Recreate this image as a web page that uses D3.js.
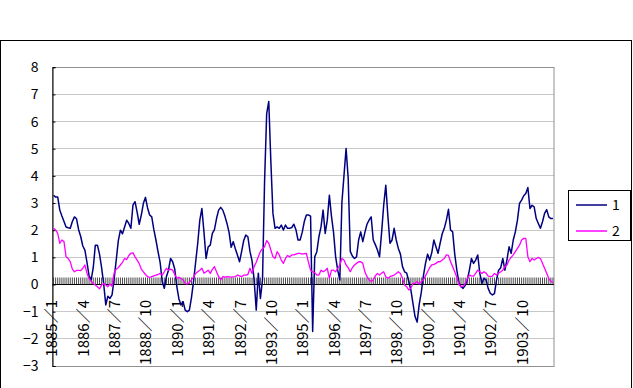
<!DOCTYPE html>
<html>
<head>
<meta charset="utf-8">
<script src="https://cdnjs.cloudflare.com/ajax/libs/d3/7.8.5/d3.min.js"></script>
<style>
body { margin: 0; background: #fff; }
text { font-family: "Noto Sans CJK JP", "Noto Sans", sans-serif; }
.xlabs { opacity: 0.995; }
</style>
</head>
<body>
<script>
// months 1885/1 .. 1904/12
var startYear = 1885;
var monthCount = 240;
var months = [];
for (var k = 0; k < monthCount; k++) {
	months.push((startYear + Math.floor(k / 12)) + "／" + (k % 12 + 1));
}

var tickLabels = ["1885／1", "1886／4", "1887／7", "1888／10", "1890／1", "1891／4", "1892／7", "1893／10",
	"1895／1", "1896／4", "1897／7", "1898／10", "1900／1", "1901／4", "1902／7", "1903／10"];

var yTicks = [-3, -2, -1, 0, 1, 2, 3, 4, 5, 6, 7, 8];

var seriesNames = ["1", "2"];

var series1 = [
	3.27, 3.2, 3.2, 2.72, 2.5, 2.3, 2.1, 2.07, 2.05, 2.3,
	2.47, 2.4, 2.0, 1.75, 1.4, 1.25, 0.8, 0.3, 0.15, 0.6,
	1.43, 1.43, 1.1, 0.6, 0.0, -0.77, -0.45, -0.53, -0.4, 0.2,
	0.88, 1.6, 1.98, 1.85, 2.1, 2.35, 2.23, 2.05, 2.9, 3.03,
	2.65, 2.2, 2.54, 2.97, 3.19, 2.8, 2.54, 2.47, 2.0, 1.62,
	1.19, 0.8, 0.1, -0.16, 0.27, 0.51, 0.94, 0.82, 0.55, -0.1,
	-0.55, -0.77, -0.65, -0.96, -1.02, -0.96, -0.5, 0.1, 0.8, 1.5,
	2.35, 2.78, 1.9, 0.94, 1.37, 1.43, 1.86, 2.0, 2.41, 2.72,
	2.82, 2.72, 2.5, 2.23, 1.9, 1.35, 1.56, 1.3, 1.07, 0.82,
	1.19, 1.6, 1.8, 1.74, 1.2, 0.85, 0.15, -0.96, 0.4, -0.53,
	0.15, 3.8, 6.27, 6.72, 4.5, 2.6, 2.05, 2.1, 2.05, 2.17,
	1.99, 2.17, 2.05, 2.05, 2.08, 2.2, 2.0, 1.62, 1.62, 1.9,
	2.3, 2.54, 2.54, 2.5, -1.75, 1.0, 1.19, 1.74, 2.1, 2.72,
	1.86, 2.35, 3.27, 2.5, 1.9, 1.0, 0.51, 0.15, 3.0, 4.0,
	4.99, 3.9, 1.2, 1.03, 0.94, 1.0, 1.62, 1.92, 1.56, 1.9,
	2.2, 2.35, 2.47, 1.62, 1.45, 1.25, 1.0, 1.9, 2.9, 3.64,
	2.5, 1.5, 1.62, 2.05, 1.62, 1.31, 1.1, 0.64, 0.45, 0.4,
	0.1, -0.22, -0.71, -1.2, -1.4, -0.75, -0.3, 0.3, 0.76, 1.1,
	0.88, 1.15, 1.62, 1.37, 1.13, 1.5, 1.85, 2.05, 2.35, 2.75,
	1.99, 1.92, 1.1, 0.51, 0.05, -0.1, -0.16, -0.05, 0.15, 0.51,
	0.94, 0.76, 0.88, 1.07, 0.39, 0.02, 0.21, 0.15, -0.16, -0.34,
	-0.4, -0.35, 0.15, 0.51, 0.6, 0.94, 0.51, 0.9, 1.37, 1.13,
	1.62, 1.92, 2.35, 2.97, 3.09, 3.25, 3.33, 3.55, 2.78, 2.9,
	2.84, 2.41, 2.23, 2.05, 2.29, 2.6, 2.74, 2.47, 2.41, 2.41
];

var series2 = [
	2.05, 1.99, 1.86, 1.5, 1.62, 1.56, 1.0, 0.94, 0.82, 0.55,
	0.45, 0.5, 0.5, 0.49, 0.58, 0.7, 0.4, 0.2, 0.1, 0.02,
	-0.04, -0.1, -0.18, -0.04, 0.02, -0.04, -0.1, 0.0, -0.08, 0.4,
	0.55, 0.6, 0.7, 0.8, 0.94, 0.9, 1.05, 1.13, 1.15, 1.0,
	0.88, 0.75, 0.55, 0.45, 0.35, 0.27, 0.24, 0.27, 0.3, 0.33,
	0.35, 0.39, 0.33, 0.45, 0.58, 0.51, 0.55, 0.51, 0.35, 0.21,
	0.25, 0.2, 0.15, 0.02, 0.0, 0.05, 0.15, 0.25, 0.39, 0.45,
	0.51, 0.58, 0.4, 0.45, 0.51, 0.39, 0.54, 0.64, 0.45, 0.27,
	0.15, 0.27, 0.25, 0.27, 0.26, 0.25, 0.26, 0.27, 0.33, 0.3,
	0.27, 0.33, 0.33, 0.35, 0.58, 0.39, 0.64, 0.8, 1.0, 1.2,
	1.3, 1.37, 1.6, 1.5, 1.25, 1.0, 0.94, 1.19, 1.07, 0.88,
	0.76, 0.94, 1.05, 1.0, 1.07, 1.07, 1.1, 1.13, 1.13, 1.1,
	1.12, 1.13, 0.8, 0.51, 0.45, 0.42, 0.33, 0.33, 0.51, 0.45,
	0.5, 0.58, 0.21, 0.51, 0.51, 0.45, 0.58, 0.7, 0.94, 0.88,
	0.7, 0.6, 0.45, 0.6, 0.7, 0.76, 0.82, 0.82, 0.76, 0.45,
	0.27, 0.15, 0.09, 0.15, 0.3, 0.39, 0.33, 0.4, 0.45, 0.27,
	0.21, 0.27, 0.3, 0.33, 0.39, 0.45, 0.39, 0.21, -0.04, -0.1,
	-0.22, -0.16, 0.02, 0.02, 0.09, 0.0, 0.09, 0.15, 0.3, 0.45,
	0.6, 0.7, 0.72, 0.76, 0.82, 0.82, 0.88, 0.94, 1.07, 1.05,
	0.82, 0.64, 0.45, 0.25, -0.02, -0.1, -0.08, 0.02, 0.2, 0.33,
	0.3, 0.29, 0.39, 0.51, 0.45, 0.39, 0.45, 0.4, 0.29, 0.27,
	0.29, 0.39, 0.33, 0.4, 0.45, 0.51, 0.64, 0.7, 0.88, 0.98,
	1.07, 1.19, 1.31, 1.43, 1.62, 1.68, 1.68, 1.0, 0.82, 0.94,
	0.88, 0.94, 0.98, 0.94, 0.76, 0.58, 0.4, 0.2, 0.1, 0.05
];

var colors = ["#000080", "#ff00ff"];

var W = 633, H = 388;
var plot = {left: 52.5, right: 554, top: 66.7, bottom: 365.5};

var svg = d3.select("body").append("svg")
	.attr("width", W)
	.attr("height", H);

// cornice esterna
svg.append("rect")
	.attr("x", 0.5).attr("y", 40.5)
	.attr("width", 631).attr("height", 400)
	.attr("fill", "#fff")
	.attr("stroke", "#000");

var x = d3.scaleBand()
	.domain(d3.range(monthCount))
	.range([plot.left, plot.right]);

var y = d3.scaleLinear()
	.domain([-3, 8])
	.range([plot.bottom, plot.top]);

function cx(i) { return x(i) + x.bandwidth() / 2; }

// griglia
svg.selectAll("line.grid")
	.data(yTicks)
	.enter()
	.append("line")
	.attr("class", "grid")
	.attr("x1", plot.left).attr("x2", plot.right)
	.attr("y1", function (d) { return Math.round(y(d)) + 0.5; })
	.attr("y2", function (d) { return Math.round(y(d)) + 0.5; })
	.attr("stroke", "#c8c8c8");

// bordo area grafico
svg.append("rect")
	.attr("x", plot.left).attr("y", Math.round(plot.top) + 0.5)
	.attr("width", plot.right - plot.left)
	.attr("height", Math.round(plot.bottom) - Math.round(plot.top))
	.attr("fill", "none")
	.attr("stroke", "#909090");

// asse y
var yAxis = svg.append("g")
	.attr("transform", "translate(" + plot.left + ",0.5)")
	.call(d3.axisLeft(y).tickValues(yTicks).tickSize(-3).tickPadding(14)
		.tickFormat(function (d) { return d < 0 ? "−" + Math.abs(d) : d; }));
yAxis.select(".domain").attr("stroke", "#000");
yAxis.selectAll(".tick line").attr("stroke", "#000");
yAxis.selectAll("text").attr("font-size", 14).attr("fill", "#000")
	.style("font-family", "'Noto Sans CJK JP', sans-serif");

// asse x sullo zero, una tacca per mese
var y0 = Math.round(y(0)) + 0.5;
svg.selectAll("line.mtick")
	.data(months)
	.enter()
	.append("line")
	.attr("class", "mtick")
	.attr("x1", function (d, i) { return cx(i); })
	.attr("x2", function (d, i) { return cx(i); })
	.attr("y1", y0 - 7).attr("y2", y0)
	.attr("stroke", "#333")
	.attr("stroke-width", 0.9);

svg.append("line")
	.attr("x1", plot.left).attr("x2", plot.right)
	.attr("y1", y0).attr("y2", y0)
	.attr("stroke", "#000");

// etichette mesi
svg.append("g")
	.attr("class", "xlabs")
	.selectAll("text")
	.data(tickLabels)
	.enter()
	.append("text")
	.attr("transform", function (d) {
		var i = months.indexOf(d);
		return "translate(" + (cx(i) - 1.5) + ",300) rotate(-90)";
	})
	.attr("text-anchor", "end")
	.attr("dy", "0.36em")
	.attr("font-size", 15)
	.attr("fill", "#000")
	.text(function (d) { return d; });

// linee delle serie
var line = d3.line()
	.x(function (d, i) { return cx(i); })
	.y(function (d) { return y(d); });

svg.selectAll("path.serie")
	.data([series1, series2])
	.enter()
	.append("path")
	.attr("class", "serie")
	.attr("d", line)
	.attr("fill", "none")
	.attr("stroke", function (d, i) { return colors[i]; })
	.attr("stroke-width", function (d, i) { return i == 0 ? 1.5 : 1.3; })
	.attr("stroke-linejoin", "round");

// legenda
var leg = svg.append("g");
leg.append("rect")
	.attr("x", 568.5).attr("y", 190.5)
	.attr("width", 62).attr("height", 50)
	.attr("fill", "#fff")
	.attr("stroke", "#000");

leg.selectAll("line")
	.data(seriesNames)
	.enter()
	.append("line")
	.attr("x1", 576).attr("x2", 607)
	.attr("y1", function (d, i) { return 205 + i * 26; })
	.attr("y2", function (d, i) { return 205 + i * 26; })
	.attr("stroke", function (d, i) { return colors[i]; })
	.attr("stroke-width", 1.5);

leg.selectAll("text")
	.data(seriesNames)
	.enter()
	.append("text")
	.attr("x", 612)
	.attr("y", function (d, i) { return 205 + i * 26; })
	.attr("dy", "0.36em")
	.attr("font-size", 14)
	.text(function (d) { return d; });
</script>
</body>
</html>
